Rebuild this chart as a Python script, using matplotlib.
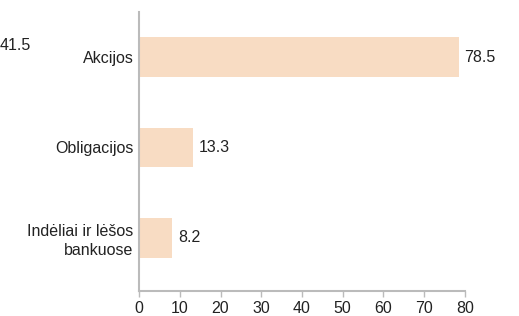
import matplotlib
matplotlib.use("Agg")
import matplotlib.pyplot as plt

categories = ["Indėliai ir lėšos\nbankuose", "Obligacijos", "Akcijos"]
values = [8.2, 13.3, 78.5]
stray_label = "41.5"

plt.rcParams["font.family"] = ["Liberation Sans", "DejaVu Sans"]
fs = 11.5

fig = plt.figure(figsize=(5.19, 3.16), dpi=100)
ax = fig.add_axes([139 / 519, 25 / 316, 326 / 519, 279 / 316])

pos = range(len(categories))
ax.barh(pos, values, height=0.44, color="#f8dcc3")
for p, v in zip(pos, values):
    ax.text(v + 1.4, p, str(v), va="center", ha="left", fontsize=fs, color="#222222")

ax.set_xlim(0, 80)
ax.set_ylim(-0.59, 2.5)
ax.set_xticks(range(0, 81, 10))
ax.set_yticks(list(pos))
ax.set_yticklabels(categories, fontsize=fs, color="#222222", linespacing=1.3)

for s in ["top", "right"]:
    ax.spines[s].set_visible(False)
for s in ["left", "bottom"]:
    ax.spines[s].set_color("#bbbbbb")
    ax.spines[s].set_linewidth(1.5)
ax.tick_params(axis="y", length=0, pad=4)
ax.tick_params(axis="x", length=4, color="#bbbbbb", width=1, labelsize=fs,
               labelcolor="#222222", pad=3)

fig.text(0.0, 1 - 45 / 316, stray_label, fontsize=fs, color="#222222", va="center")

fig.savefig("out.png", dpi=100)
